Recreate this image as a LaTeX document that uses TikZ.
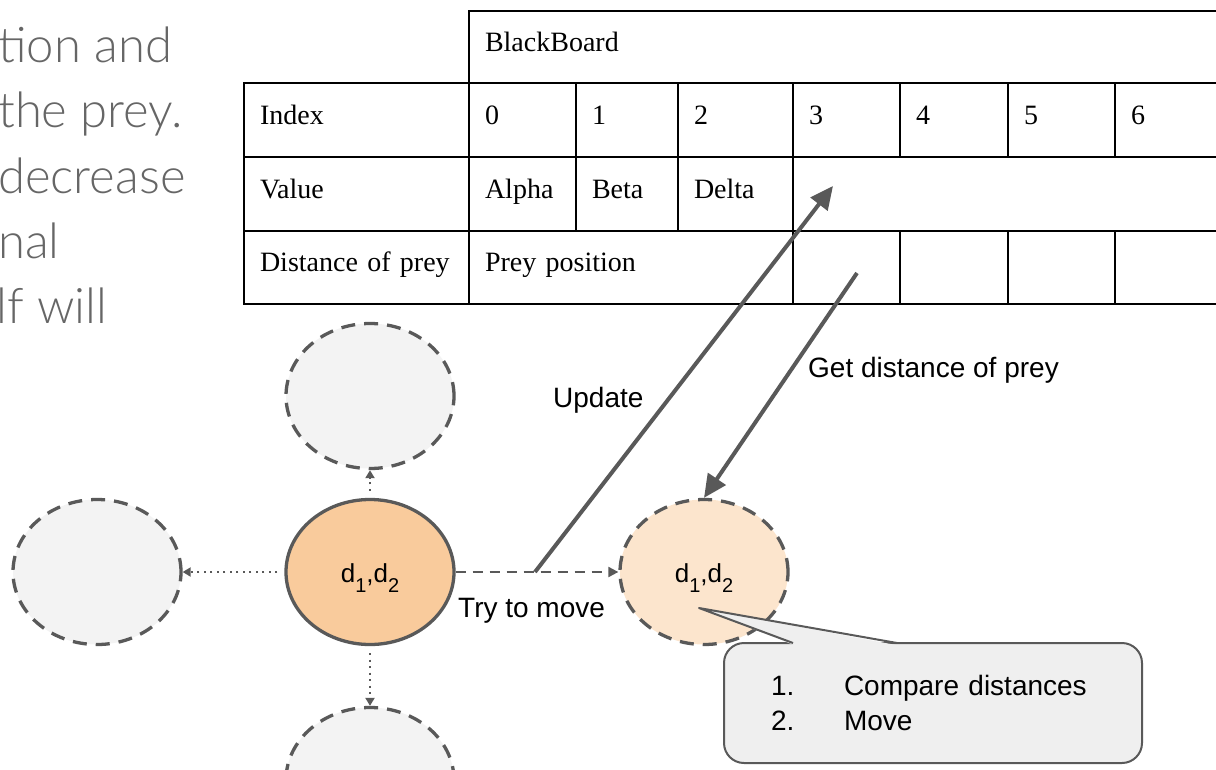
\documentclass[tikz,border=0pt]{standalone}
\usepackage{fontspec}
\setmainfont{Liberation Serif}
\newfontfamily\arialfont{Liberation Sans}
\newfontfamily\lightfont{Lato Light}
\usetikzlibrary{shapes.geometric,arrows.meta}
\definecolor{edge}{HTML}{595959}
\definecolor{orangefill}{HTML}{F9CB9C}
\definecolor{paleorange}{HTML}{FCE5CD}
\definecolor{ghost}{HTML}{F3F3F3}
\definecolor{notefill}{HTML}{EFEFEF}
\definecolor{prose}{HTML}{666666}
\newcommand{\tcell}[7]{\node[cellbox, minimum width=#4pt, minimum height=#5pt, text width=#6pt] (#1) at (#2,#3) {#7};}
\newcommand{\dsub}[1]{\raisebox{-10pt}{\fontsize{20}{20}\selectfont #1}}
\tikzset{
  cellbox/.style={draw=black, line width=2pt, rectangle, anchor=north west, inner xsep=16pt, inner ysep=0pt, align=left, text height=20pt, text depth=12pt, font=\fontsize{28}{32}\selectfont},
  ghostnode/.style={ellipse, draw=edge, line width=3.3pt, dash pattern=on 14pt off 9pt, fill=ghost, minimum width=168pt, minimum height=145pt, inner sep=0pt},
  curnode/.style={ellipse, draw=edge, line width=3.3pt, fill=orangefill, minimum width=168pt, minimum height=145pt, inner sep=0pt, font=\arialfont\fontsize{26}{28}\selectfont, text height=21pt, text depth=0pt},
  nextnode/.style={ghostnode, fill=paleorange, font=\arialfont\fontsize{26}{28}\selectfont, text height=21pt, text depth=0pt},
  dotconn/.style={draw=edge, line width=2pt, dash pattern=on 2pt off 4.5pt, shorten <=7pt, -{Triangle[length=8pt,width=9pt]}},
  dashconn/.style={draw=edge, line width=2pt, dash pattern=on 10pt off 7pt, -{Triangle[length=10pt,width=10pt]}},
  bigarrow/.style={draw=edge, line width=4pt, -{Triangle[length=23pt,width=21pt]}},
  lbl/.style={inner sep=0pt, font=\arialfont\fontsize{28}{32}\selectfont},
  prosetext/.style={inner sep=0pt, text=prose, font=\lightfont\fontsize{49}{49}\selectfont},
  notebox/.style={rectangle, rounded corners=20pt, draw=edge, line width=2pt, fill=notefill, minimum width=418pt, minimum height=120pt, text width=324pt, inner xsep=47pt, align=left, font=\arialfont\fontsize{28}{35}\selectfont}
}
\begin{document}
\begin{tikzpicture}[x=1pt,y=-1pt]
\useasboundingbox (0,0) rectangle (1216,769);
\clip (0,0) rectangle (1216,769);
% left prose
\node[prosetext, anchor=base west] (p1) at (-2,62) {tion and};
\node[prosetext, anchor=base west] (p2) at (-2,127) {the prey.};
\node[prosetext, anchor=base west] (p3) at (-2,193) {decrease};
\node[prosetext, anchor=base west] (p4) at (-2,258) {nal};
\node[prosetext, anchor=base west] (p5) at (-4,323) {lf will};
% table
\tcell{hdr}{468}{10}{772}{72}{740}{BlackBoard}
\tcell{idx}{243}{82}{225}{74}{193}{Index}
\tcell{i0}{468}{82}{107}{74}{75}{0}
\tcell{i1}{575}{82}{102}{74}{70}{1}
\tcell{i2}{677}{82}{115}{74}{83}{2}
\tcell{i3}{792}{82}{107}{74}{75}{3}
\tcell{i4}{899}{82}{108}{74}{76}{4}
\tcell{i5}{1007}{82}{107}{74}{75}{5}
\tcell{i6}{1114}{82}{126}{74}{94}{6}
\tcell{val}{243}{156}{225}{74}{193}{Value}
\tcell{v0}{468}{156}{107}{74}{75}{Alpha}
\tcell{v1}{575}{156}{102}{74}{70}{Beta}
\tcell{v2}{677}{156}{115}{74}{83}{Delta}
\tcell{vrest}{792}{156}{448}{74}{416}{}
\tcell{dist}{243}{230}{225}{73}{193}{Distance of prey}
\tcell{prey}{468}{230}{324}{73}{292}{Prey position}
\tcell{d3}{792}{230}{107}{73}{75}{}
\tcell{d4}{899}{230}{108}{73}{76}{}
\tcell{d5}{1007}{230}{107}{73}{75}{}
\tcell{d6}{1114}{230}{126}{73}{94}{}
% wolves
\node[ghostnode] (up) at (370,396) {};
\node[ghostnode] (left) at (97,572) {};
\node[ghostnode] (down) at (370,780) {};
\node[curnode] (cur) at (370,572) {d\dsub{1},d\dsub{2}};
\node[nextnode] (next) at (704,572) {d\dsub{1},d\dsub{2}};
% connectors
\draw[dotconn] (cur.north) -- (up.south);
\draw[dotconn] (cur.west) -- (left.east);
\draw[dotconn] (cur.south) -- (down.north);
\draw[dashconn] (cur.east) -- (next.west);
\coordinate (upd) at (535,572);
\coordinate (slot) at (833,186);
\coordinate (gd) at (857,273);
\draw[bigarrow] (upd) -- (slot);
\draw[bigarrow] (gd) -- (next.north);
\node[lbl, anchor=base west] (updlbl) at (553,407) {Update};
\node[lbl, anchor=base west] (getlbl) at (808,377) {Get distance of prey};
\node[lbl, anchor=base west] (trylbl) at (458,617) {Try to move};
% callout
\node[notebox] (note) at (933,703) {\makebox[73pt][l]{1.}Compare distances\\\makebox[73pt][l]{2.}Move};
\coordinate (tip) at (699,608);
\fill[notefill] (794,645) -- (tip) -- (896,645) -- cycle;
\draw[edge, line width=2pt, line join=round] (793,643) -- (tip) -- (897,643);
\end{tikzpicture}
\end{document}
